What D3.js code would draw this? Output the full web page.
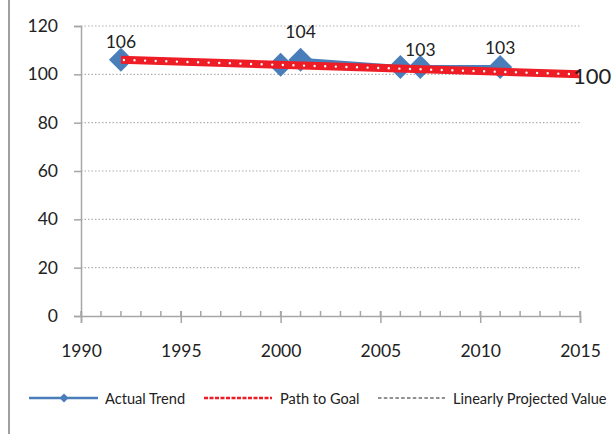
<!DOCTYPE html>
<html><head><meta charset="utf-8">
<script src="https://cdn.jsdelivr.net/npm/d3@7"></script>
<style>body{margin:0;background:#fff}svg{display:block}text{font-family:Lato,"Liberation Sans",sans-serif;fill:#222}</style>
</head><body><svg id="c" width="615" height="434"></svg>
<script>
const actualYears = [1992, 2000, 2001, 2006, 2007, 2011];
const actualValues = [106, 104, 106, 103, 103, 103];
const goalYears = [1992, 2015];
const goalValues = [106, 100];
const labelYears = [1992, 2001, 2007, 2011];
const labelTexts = ["106", "104", "103", "103"];
const endLabelYear = 2015;
const endLabelText = "100";
const yTicks = [0, 20, 40, 60, 80, 100, 120];
const xTicks = [1990, 1995, 2000, 2005, 2010, 2015];
const legendNames = ["Actual Trend", "Path to Goal", "Linearly Projected Value"];

const svg = d3.select("#c");
const x = d3.scaleLinear().domain([1990, 2015]).range([81, 580]);
const y = d3.scaleLinear().domain([0, 120]).range([316, 26]);
const grey = "#a6a6a6";

// frame left border
svg.append("line").attr("x1", 9).attr("x2", 9).attr("y1", 0).attr("y2", 434)
  .attr("stroke", "#a0a0a0").attr("stroke-width", 2);

// gridlines
svg.append("g").selectAll("line").data(yTicks.filter(d => d > 0)).join("line")
  .attr("x1", x(1990)).attr("x2", x(2015)).attr("y1", d => y(d)).attr("y2", d => y(d))
  .attr("stroke", "#b0b0b0").attr("stroke-width", 1.2).attr("stroke-dasharray", "1.5,2");

// y axis
const yAxis = svg.append("g").attr("transform", `translate(${x(1990)},0)`)
  .call(d3.axisLeft(y).tickValues(yTicks).tickSize(7).tickPadding(16));
yAxis.select(".domain").attr("stroke", grey).attr("stroke-width", 1.5);
yAxis.selectAll(".tick line").attr("stroke", grey).attr("stroke-width", 1.5);
yAxis.selectAll("text").style("font-size", "17.5px").attr("fill", "#222").style("font-family", "Lato");

// x axis minor ticks (inside)
svg.append("g").selectAll("line").data(d3.range(1990, 2016)).join("line")
  .attr("x1", d => x(d)).attr("x2", d => x(d)).attr("y1", y(0) - 5).attr("y2", y(0))
  .attr("stroke", grey).attr("stroke-width", 1.5);
const xAxis = svg.append("g").attr("transform", `translate(0,${y(0)})`)
  .call(d3.axisBottom(x).tickValues(xTicks).tickFormat(d3.format("d")).tickSize(7).tickPadding(22));
xAxis.select(".domain").attr("stroke", grey).attr("stroke-width", 1.5);
xAxis.selectAll(".tick line").attr("stroke", grey).attr("stroke-width", 1.5).attr("y1", -5);
xAxis.selectAll("text").style("font-size", "17.5px").attr("fill", "#222").style("font-family", "Lato");

// actual trend
const blue = "#4a7ebb";
const actual = actualYears.map((d, i) => [d, actualValues[i]]);
const line = d3.line().x(d => x(d[0])).y(d => y(d[1]));
svg.append("path").datum(actual).attr("d", line).attr("fill", "none")
  .attr("stroke", blue).attr("stroke-width", 4);
const diamond = s => `M0,${-s}L${s},0L0,${s}L${-s},0Z`;
svg.append("g").selectAll("path").data(actual).join("path")
  .attr("transform", d => `translate(${x(d[0])},${y(d[1])})`)
  .attr("d", diamond(12)).attr("fill", blue);

// path to goal
const goal = goalYears.map((d, i) => [d, goalValues[i]]);
svg.append("path").datum(goal).attr("d", line).attr("fill", "none")
  .attr("stroke", "#ee1c25").attr("stroke-width", 8);
svg.append("path").datum(goal).attr("d", line).attr("fill", "none")
  .attr("stroke", "#fff").attr("stroke-width", 2.4).attr("stroke-linecap", "round")
  .attr("stroke-dasharray", "0,10.6").attr("stroke-dashoffset", -3);

// data labels
const labelOffsets = [-18, -28, -18, -20];
svg.append("g").selectAll("text").data(labelYears).join("text")
  .attr("x", d => x(d)).attr("y", (d, i) => y(actualValues[actualYears.indexOf(d)]) + labelOffsets[i])
  .attr("text-anchor", "middle").attr("dominant-baseline", "central")
  .style("font-size", "17.5px").text((d, i) => labelTexts[i]);
svg.append("text").attr("x", x(endLabelYear) - 7).attr("y", y(goalValues[1]) + 1)
  .attr("dominant-baseline", "central").style("font-size", "22px").text(endLabelText);

// legend
const ly = 398;
const lg = svg.append("g");
lg.append("line").attr("x1", 29).attr("x2", 98).attr("y1", ly).attr("y2", ly).attr("stroke", blue).attr("stroke-width", 2.5);
lg.append("path").attr("transform", `translate(64,${ly})`).attr("d", diamond(4.5)).attr("fill", blue);
lg.append("line").attr("x1", 204).attr("x2", 272).attr("y1", ly).attr("y2", ly).attr("stroke", "#ee1c25").attr("stroke-width", 2.5).attr("stroke-dasharray", "4,1.5");
lg.append("line").attr("x1", 378).attr("x2", 445).attr("y1", ly).attr("y2", ly).attr("stroke", "#222").attr("stroke-width", 1).attr("stroke-dasharray", "3.5,2.3");
const lx = [105, 280, 453];
lg.selectAll("text").data(legendNames).join("text")
  .attr("x", (d, i) => lx[i]).attr("y", ly).attr("dominant-baseline", "central")
  .style("font-size", "14.6px").text(d => d);
</script></body></html>
